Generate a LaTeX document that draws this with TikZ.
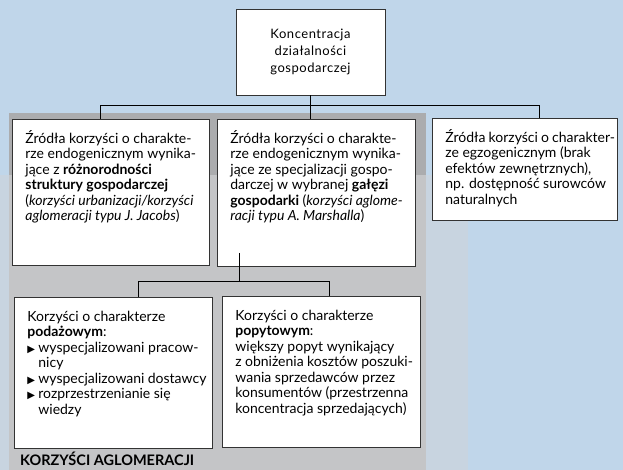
\documentclass[tikz,border=0pt]{standalone}
\usepackage{fontspec}
\setmainfont{Lato}
\newfontfamily\symfont{DejaVu Sans}
\usetikzlibrary{calc,positioning}

\definecolor{bgblue}{HTML}{C0D6EA}
\definecolor{bgblue2}{HTML}{C8D4E0}
\definecolor{grayA}{HTML}{ABACAE}
\definecolor{grayB}{HTML}{C4C5C7}

\newcommand{\bul}{\makebox[11pt][l]{\symfont\fontsize{10pt}{10pt}\selectfont ▶}}
\newcommand{\ind}{\hspace*{11pt}}
\newcommand{\btxt}[3]{\parbox[t][#1][t]{#2}{\raggedright\rightskip = 0pt plus 1fil minus 30pt\rule{0pt}{17pt}#3}}
\newcommand{\fs}{\fontsize{14pt}{15.5pt}\selectfont}

\begin{document}
\begin{tikzpicture}[x = 1pt, y = -1pt,
  box/.style={draw = black!80, line width = 0.8pt, fill = white, anchor = north west, inner xsep = 13pt, inner ysep = 7pt, font = \fs},
  ln/.style={draw = black, line width = 0.6pt}]
\useasboundingbox (0,0) rectangle (623,470);
\fill[bgblue] (0,0) rectangle (623,470);
\fill[bgblue2] (0,175) rectangle (468,470);
\fill[grayA] (9,113) rectangle (426,175);
\fill[grayB] (9,175) rectangle (426,470);

\node[box, anchor = center, align = center, minimum width = 149pt, minimum height = 86pt, inner sep = 0pt,
  font = \fontsize{13pt}{16.7pt}\selectfont\addfontfeature{LetterSpace = 4}] (conc) at (310.5, 52) {Koncentracja\\ działalności\\ gospodarczej};

\node[box] (src1) at (12, 119) {\btxt{132pt}{171pt}{Źródła korzyści o charakte-\\
rze endogenicznym wynika-\\
jące z \textbf{różnorodności}\\
\textbf{struktury gospodarczej}\\
(\textit{korzyści urbanizacji/korzyści}\\
\textit{aglomeracji typu J. Jacobs})}};
\node[box] (src2) at (217, 119) {\btxt{133pt}{172pt}{Źródła korzyści o charakte-\\
rze endogenicznym wynika-\\
jące ze specjalizacji gospo-\\
darczej w wybranej \textbf{gałęzi}\\
\textbf{gospodarki} (\textit{korzyści aglome-}\\
\textit{racji typu A. Marshalla})}};
\node[box] (src3) at (432, 118) {\btxt{88pt}{159pt}{Źródła korzyści o charakter-\\
ze egzogenicznym (brak\\
efektów zewnętrznych),\\
np. dostępność surowców\\
naturalnych}};

\node[box] (ben1) at (14, 297) {\btxt{137pt}{172pt}{Korzyści o charakterze\\
\textbf{podażowym}:\\
\bul wyspecjalizowani pracow-\\
\ind nicy\\
\bul wyspecjalizowani dostawcy\\
\bul rozprzestrzenianie się\\
\ind wiedzy}};
\node[box] (ben2) at (222, 296) {\btxt{137pt}{172pt}{Korzyści o charakterze\\
\textbf{popytowym}:\\
większy popyt wynikający\\
z obniżenia kosztów poszuki-\\
wania sprzedawców przez\\
konsumentów (przestrzenna\\
koncentracja sprzedających)}};

\node[anchor = base west, inner sep = 0pt, font = \fontsize{14.5pt}{15pt}\selectfont\bfseries] (agl) at (20, 465) {KORZYŚCI AGLOMERACJI};

% connectors
\coordinate (bus) at (0, 105.5);
\coordinate (fork) at (0, 281);
\draw[ln] (conc.south) -- (conc.south |- src2.north);
\draw[ln] ([xshift = -10.5pt]src1.north) |- ([xshift = 14.5pt]src3.north |- bus) -- ([xshift = 14.5pt]src3.north);
\draw[ln] ([xshift = -77pt, yshift = 14pt]src2.south) -- ([xshift = -77pt]src2.south |- fork);
\draw[ln] ([xshift = 25pt]ben1.north) |- ([xshift = 8pt]ben2.north |- fork) -- ([xshift = 8pt]ben2.north);
\end{tikzpicture}
\end{document}
